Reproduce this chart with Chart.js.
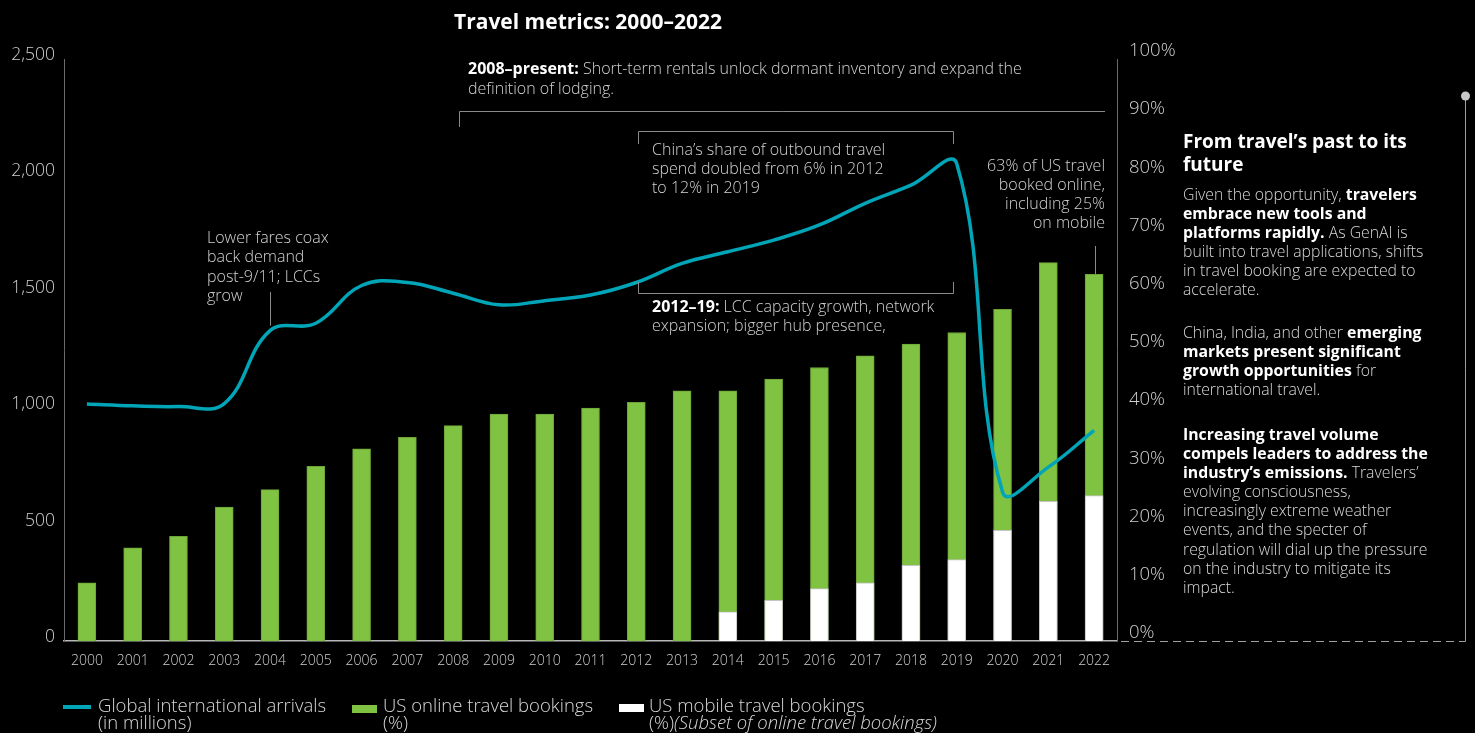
<!DOCTYPE html>
<html>
<head>
<meta charset="utf-8">
<title>Travel metrics: 2000–2022</title>
<script src="https://cdn.jsdelivr.net/npm/chart.js@4.4.0/dist/chart.umd.min.js"></script>
<style>
  html, body { margin: 0; padding: 0; background: #000; }
  #wrap { position: relative; width: 1475px; height: 733px; overflow: hidden; font-family: "Open Sans", sans-serif; color: #d2d2d2; }
  #chartTravel { position: absolute; left: 0; top: 0; }
  .txt { position: absolute; white-space: nowrap; font-weight: 300; }
  .txt b { font-weight: 700; color: #fff; }
  .title { left: 454px; top: 7px; font-size: 21px; line-height: 28px; font-weight: 700; color: #fff; }
  .note { font-size: 16px; }
  .panel { left: 1183px; font-size: 15.8px; line-height: 19.1px; color: #d8d8d8; }
  .panel-head { left: 1183px; top: 130px; font-size: 19px; line-height: 23.3px; font-weight: 700; color: #fff; }
  .leg { top: 696px; font-size: 18.5px; line-height: 17px; color: #d8d8d8; }
  .sw { position: absolute; }
</style>
</head>
<body>
<div id="wrap">
  <canvas id="chartTravel" width="1475" height="733"></canvas>

  <div class="txt title">Travel metrics: 2000–2022</div>

  <div class="txt note" style="left:468px; top:58px; line-height:20px;"><b>2008–present:</b> Short-term rentals unlock dormant inventory and expand the<br>definition of lodging.</div>
  <div class="txt note" style="left:652px; top:140px; line-height:19.2px;">China’s share of outbound travel<br>spend doubled from 6% in 2012<br>to 12% in 2019</div>
  <div class="txt note" style="left:652px; top:297px; line-height:19px;"><b>2012–19:</b> LCC capacity growth, network<br>expansion; bigger hub presence,</div>
  <div class="txt note" style="right:370px; top:156px; line-height:19.1px; text-align:right;">63% of US travel<br>booked online,<br>including 25%<br>on mobile</div>
  <div class="txt note" style="left:207px; top:228px; line-height:19.4px;">Lower fares coax<br>back demand<br>post-9/11; LCCs<br>grow</div>

  <div class="txt panel-head">From travel’s past to its<br>future</div>
  <div class="txt panel" style="top:185px;">Given the opportunity, <b>travelers<br>embrace new tools and<br>platforms rapidly.</b> As GenAI is<br>built into travel applications, shifts<br>in travel booking are expected to<br>accelerate.</div>
  <div class="txt panel" style="top:323px;">China, India, and other <b>emerging<br>markets present significant<br>growth opportunities</b> for<br>international travel.</div>
  <div class="txt panel" style="top:425px;"><b>Increasing travel volume<br>compels leaders to address the<br>industry’s emissions.</b> Travelers’<br>evolving consciousness,<br>increasingly extreme weather<br>events, and the specter of<br>regulation will dial up the pressure<br>on the industry to mitigate its<br>impact.</div>

  <div class="sw" style="left:63px; top:705px; width:28px; height:4px; background:#00a5b8;"></div>
  <div class="txt leg" style="left:98px;">Global international arrivals<br>(in millions)</div>
  <div class="sw" style="left:352px; top:705px; width:25px; height:8px; background:#80c242;"></div>
  <div class="txt leg" style="left:383px;">US online travel bookings<br>(%)</div>
  <div class="sw" style="left:619px; top:704px; width:25px; height:8px; background:#fff;"></div>
  <div class="txt leg" style="left:649px;">US mobile travel bookings<br>(%)<i>(Subset of online travel bookings)</i></div>
</div>

<script>
const years = ['2000','2001','2002','2003','2004','2005','2006','2007','2008','2009','2010',
  '2011','2012','2013','2014','2015','2016','2017','2018','2019','2020','2021','2022'];

// global international arrivals, millions (left axis)
const arrivals = [1018, 1010, 1007, 1020, 1333, 1365, 1527, 1540, 1494, 1444, 1462,
  1486, 1540, 1622, 1672, 1722, 1787, 1880, 1958, 2050, 640, 747, 905];

// US online travel bookings, % (right axis)
const onlineShare = [10, 16, 18, 23, 26, 30, 33, 35, 37, 39, 39,
  40, 41, 43, 43, 45, 47, 49, 51, 53, 57, 65, 63];

// US mobile travel bookings, % — subset of online
const mobileShare = [null, null, null, null, null, null, null, null, null, null, null,
  null, null, null, 5, 7, 9, 10, 13, 14, 19, 24, 25];

const leftTicks = [0, 500, 1000, 1500, 2000, 2500];
const rightTicks = [0, 10, 20, 30, 40, 50, 60, 70, 80, 90, 100];

const TEAL = '#00a5b8';
const GREEN = '#80c242';
const tickFont = { family: 'Open Sans', weight: '300' };

// brackets, leader lines and the side rule
const decorations = {
  id: 'decorations',
  afterDraw(chart) {
    const ctx = chart.ctx;
    const seg = (x1, y1, x2, y2) => {
      ctx.beginPath();
      ctx.moveTo(x1, y1);
      ctx.lineTo(x2, y2);
      ctx.stroke();
    };
    ctx.save();
    ctx.strokeStyle = '#8a8a8a';
    ctx.lineWidth = 1;

    // 2008–present bracket
    seg(459.5, 127, 459.5, 111.5);
    seg(459.5, 111.5, 1105, 111.5);

    // China box: top and bottom brackets
    seg(638.5, 144, 638.5, 131.5);
    seg(638.5, 131.5, 953.5, 131.5);
    seg(953.5, 131.5, 953.5, 144);
    seg(638.5, 282, 638.5, 293.5);
    seg(638.5, 293.5, 953.5, 293.5);
    seg(953.5, 293.5, 953.5, 282);

    // leader to the 2004 arrivals point
    const linePt = chart.getDatasetMeta(0).data[4];
    seg(Math.round(linePt.x) + 0.5, 292, Math.round(linePt.x) + 0.5, linePt.y - 5);

    // leader to the 2022 online bar
    const bar = chart.getDatasetMeta(2).data[22];
    seg(Math.round(bar.x) + 1.5, 246, Math.round(bar.x) + 1.5, bar.y);

    // side panel rule
    const right = chart.chartArea.right;
    const base = Math.round(chart.chartArea.bottom) + 0.5;
    ctx.strokeStyle = '#a0a0a0';
    seg(1465.5, 96, 1465.5, base);
    ctx.setLineDash([8, 5]);
    seg(right + 4, base, 1465.5, base);
    ctx.setLineDash([]);
    ctx.fillStyle = '#c8c8c8';
    ctx.beginPath();
    ctx.arc(1465.5, 96, 4.5, 0, Math.PI * 2);
    ctx.fill();
    ctx.restore();
  }
};

const dataTravel = {
  labels: years,
  datasets: [{
    type: 'line',
    label: 'Global international arrivals (in millions)',
    data: arrivals,
    yAxisID: 'y',
    borderColor: TEAL,
    borderWidth: 3.5,
    pointRadius: 0,
    tension: 0.4,
    order: 0
  }, {
    label: 'US mobile travel bookings (%)',
    data: mobileShare,
    yAxisID: 'y1',
    backgroundColor: '#ffffff',
    borderColor: '#c4c4c4',
    borderWidth: 1,
    barThickness: 18,
    order: 1
  }, {
    label: 'US online travel bookings (%)',
    data: onlineShare,
    yAxisID: 'y1',
    backgroundColor: GREEN,
    borderColor: '#6ea337',
    borderWidth: 1,
    barThickness: 18,
    order: 2
  }]
};

const optionsTravel = {
  responsive: false,
  animation: false,
  layout: { padding: { top: 59, left: 0, right: 0, bottom: 0 } },
  scales: {
    x: {
      stacked: true,
      offset: true,
      grid: { display: false, drawTicks: false },
      border: { display: true, color: '#b8b8b8', width: 1.5 },
      ticks: { color: '#cfcfcf', font: { ...tickFont, size: 14 }, padding: 12, maxRotation: 0 },
      afterFit(scale) { scale.height = 92; }
    },
    y: {
      position: 'left',
      min: 0,
      max: 2500,
      afterBuildTicks(scale) { scale.ticks = leftTicks.map(v => ({ value: v })); },
      grid: { display: false, drawTicks: false },
      border: { display: true, color: '#6a6a6a' },
      ticks: {
        color: '#cfcfcf',
        font: { ...tickFont, size: 17.5 },
        padding: 9,
        labelOffset: -4,
        callback: v => v.toLocaleString('en-US')
      },
      afterFit(scale) { scale.width = 64; }
    },
    y1: {
      position: 'right',
      stacked: false,
      min: 0,
      max: 100,
      afterBuildTicks(scale) { scale.ticks = rightTicks.map(v => ({ value: v })); },
      grid: { display: false, drawTicks: false },
      border: { display: true, color: '#6a6a6a' },
      ticks: {
        color: '#cfcfcf',
        font: { ...tickFont, size: 18.5 },
        padding: 12,
        labelOffset: -8,
        callback: v => v + '%'
      },
      afterFit(scale) { scale.width = 358; }
    }
  },
  plugins: {
    legend: { display: false },
    tooltip: { enabled: false }
  }
};

const ctxTravel = document.getElementById('chartTravel');

new Chart(ctxTravel, {
  type: 'bar',
  data: dataTravel,
  options: optionsTravel,
  plugins: [decorations]
});
</script>
</body>
</html>
